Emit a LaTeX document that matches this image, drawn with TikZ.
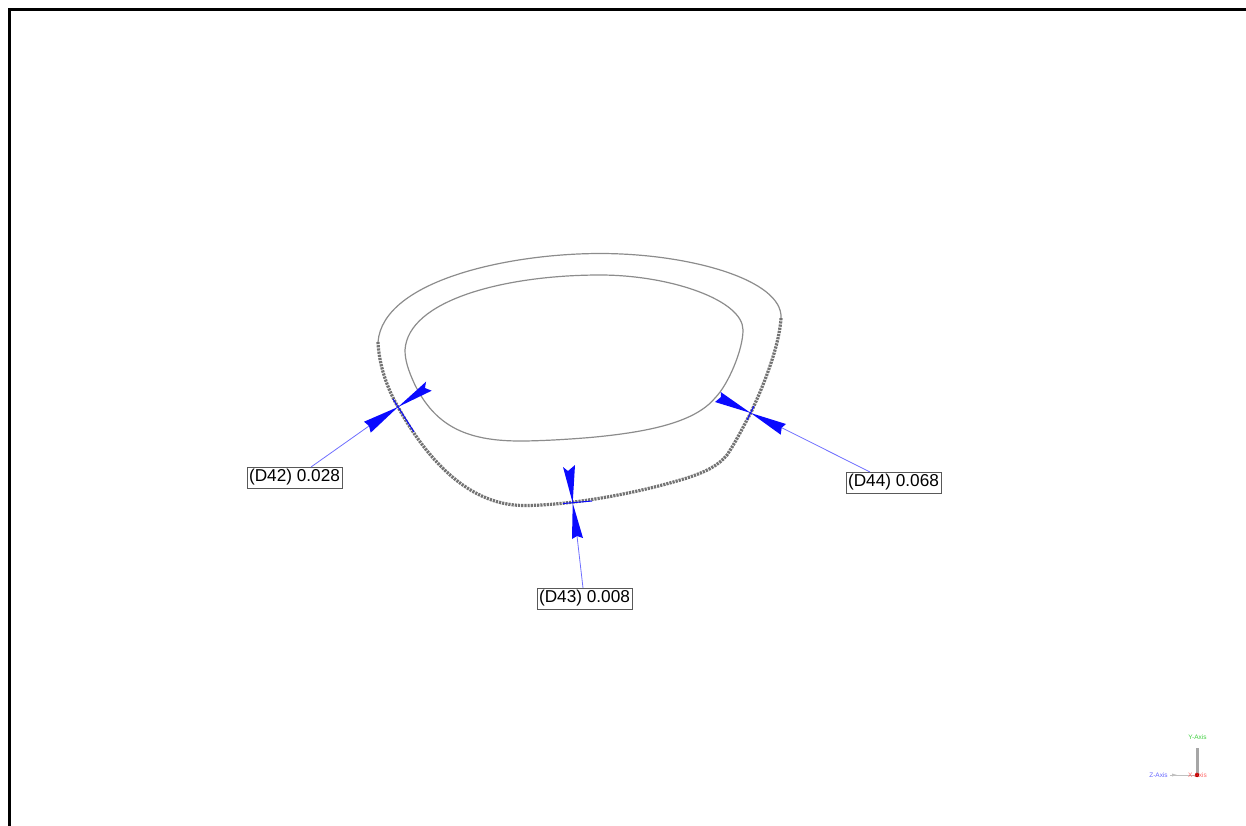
\documentclass[tikz,border=0pt]{standalone}
\usepackage{fontspec}
\setmainfont{Liberation Sans}
\definecolor{dimblue}{RGB}{10,10,255}
\definecolor{leaderblue}{RGB}{110,110,255}
\definecolor{curvegray}{RGB}{140,140,140}
\definecolor{dotgray}{RGB}{115,115,115}
\newcommand{\dimtext}[1]{\raisebox{-2pt}{#1}}
\tikzset{
  x=1pt,y=-1pt,
  frameline/.style={black,line width=3pt,line cap=rect},
  curve/.style={curvegray,line width=1.2pt},
  measured/.style={dotgray,line width=3.2pt,dash pattern=on 2.2pt off 1pt},
  leader/.style={leaderblue,line width=0.8pt},
  onpart/.style={dimblue,line width=1pt},
  head/.style={fill=dimblue,draw=none},
  dimlabel/.style={draw=black!65,line width=0.7pt,fill=white,inner sep=0pt,minimum width=95pt,minimum height=21pt,font=\fontsize{17.2}{19}\selectfont},
  axislabel/.style={inner sep=0pt,opacity=0.75,font=\fontsize{6.5}{7}\selectfont},
}
\begin{document}
\begin{tikzpicture}
\useasboundingbox (0,0) rectangle (1246,825);
% frame
\draw[frameline] (9.5,825) -- (9.5,9.5) -- (1246,9.5);
% outer outline, upper thin part
\draw[curve] (378,342) .. controls (383,280) and (510,253.5) .. (600,253.5) .. controls (690,253.5) and (783,280) .. (781,318);
% outer outline, measured lower part
\draw[measured] (378,342) .. controls (379,365) and (387,388) .. (398,407) .. controls (420,447) and (462,506) .. (525,505.5) .. controls (560,505.5) and (625,497) .. (687,478) .. controls (705,472) and (718,466) .. (727,455) .. controls (737,440) and (744,425) .. (750.7,413) .. controls (760,393) and (779,350) .. (781,318);
% inner outline
\draw[curve] (405,350) .. controls (408,300) and (505,275) .. (600,275) .. controls (670,275) and (743,300) .. (743,330) .. controls (743,350) and (728,385) .. (715,398) .. controls (695,422) and (650,432) .. (590,437.5) .. controls (560,440) and (535,441) .. (520,441) .. controls (465,441) and (435,425) .. (415,385) .. controls (408,370) and (405,360) .. (405,350) -- cycle;
% labels
\node[dimlabel] (d42) at (294.5,477.5) {\dimtext{(D42) 0.028}};
\node[dimlabel] (d43) at (584.5,598.5) {\dimtext{(D43) 0.008}};
\node[dimlabel] (d44) at (893.5,482.5) {\dimtext{(D44) 0.068}};
% anchors
\coordinate (t42) at (398,407);
\coordinate (t43) at (572.7,503);
\coordinate (t44) at (750.7,413);
\coordinate (n42) at (369,426);
\coordinate (n43) at (577,536);
\coordinate (n44) at (781.7,427.7);
\coordinate (e42) at (311,467);
\coordinate (e43) at (583,588);
\coordinate (e44) at (870,472);
% leaders
\draw[leader] (n42) -- (e42);
\draw[leader] (n43) -- (e43);
\draw[leader] (n44) -- (e44);
% short blue segments on the outline
\draw[onpart] (393,399) -- (414,432);
\draw[onpart] (563,503.5) -- (592,501);
\draw[onpart] (747,420) -- (754,406);
% arrowheads
\fill[head] (t42) -- (364,421.7) -- (n42) -- (370.7,432.7) -- cycle;
\fill[head] (t42) -- (426,381.7) -- (425,388) -- (431.7,390.7) -- cycle;
\fill[head] (t43) -- (563,467) -- (568,471) -- (575,465) -- cycle;
\fill[head] (t43) -- (572,539) -- (n43) -- (583,538) -- cycle;
\fill[head] (t44) -- (720.7,392) -- (721,397) -- (715,402) -- cycle;
\fill[head] (t44) -- (786,424) -- (n44) -- (780.7,434.7) -- cycle;
% axis triad
\coordinate (origin) at (1197,775);
\coordinate (ytip) at (1197,748);
\coordinate (ztip) at (1170,775);
\draw[black!25,line width=0.8pt] (origin) -- (ztip);
\draw[black!35,line width=3pt] (origin) -- (ytip);
\fill[black!25] (1172,773.5) -- (1177,775) -- (1172,776.5) -- cycle;
\fill[red!70!black] (origin) circle (2.2pt);
\node[axislabel,text=green!75!black] (yaxis) at (1197.5,737) {Y-Axis};
\node[axislabel,text=blue!80!white] (zaxis) at (1158.5,775.5) {Z-Axis};
\node[axislabel,text=red!80!white] (xaxis) at (1197.5,775.5) {X-Axis};
\end{tikzpicture}
\end{document}
